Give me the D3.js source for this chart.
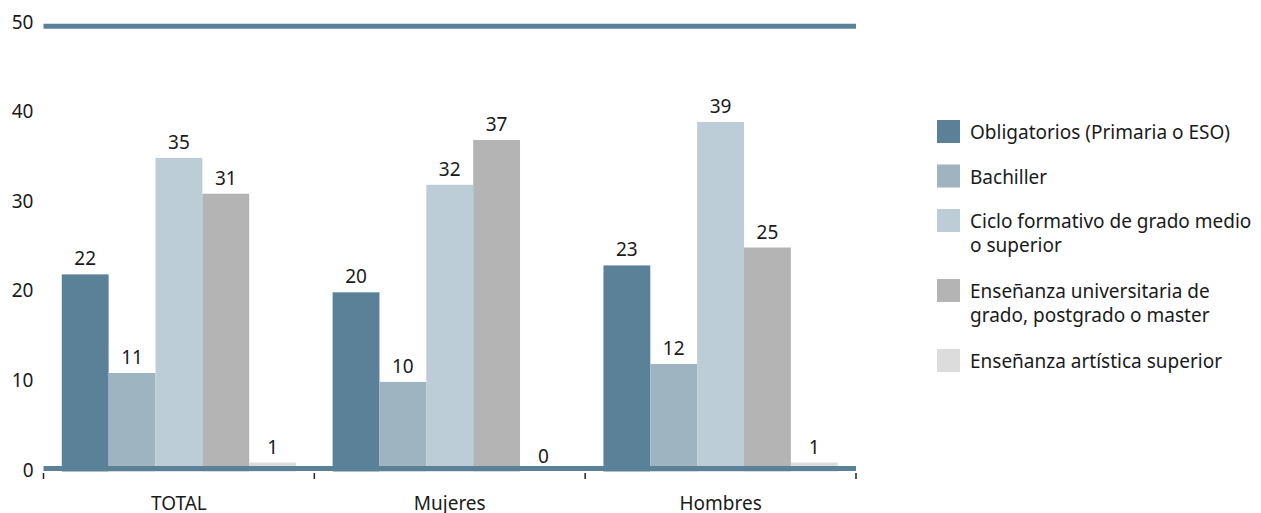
<!DOCTYPE html>
<html>
<head>
<meta charset="UTF-8" />
<title>Nivel de estudios</title>
<script src="https://cdn.jsdelivr.net/npm/d3@7"></script>
<style>
    body { margin: 0; background: #fff; }
    svg text { font-family: "Noto Sans", sans-serif; fill: #1a1a1a; }
</style>
</head>
<body>
<svg id="chart" width="1261" height="513"></svg>
<script>
    // data
    var categories = ["TOTAL", "Mujeres", "Hombres"];
    var legendLines = [
        ["Obligatorios (Primaria o ESO)"],
        ["Bachiller"],
        ["Ciclo formativo de grado medio", "o superior"],
        ["Enseñanza universitaria de", "grado, postgrado o master"],
        ["Enseñanza artística superior"]
    ];
    var obligatorios = [22, 20, 23];
    var bachiller = [11, 10, 12];
    var ciclo = [35, 32, 39];
    var universitaria = [31, 37, 25];
    var artistica = [1, 0, 1];
    var yTicks = [0, 10, 20, 30, 40, 50];

    var colors = ["#5b8199", "#9eb4c1", "#bccdd7", "#b4b4b4", "#dcdcdc"];
    var lineColor = "#5b8199";
    var fontSize = "19px";

    var series = [obligatorios, bachiller, ciclo, universitaria, artistica];

    var svg = d3.select("#chart");
    var mLeft = 43.5, mRight = 856, mTop = 23.5, mBottom = 471.5;

    var x = d3.scaleBand().domain(categories).range([mLeft, mRight]).padding(0);
    var xi = d3.scaleBand().domain(d3.range(series.length)).range([0, x.bandwidth()])
        .paddingInner(0).paddingOuter(0.39);
    var y = d3.scaleLinear().domain([0, 50]).range([mBottom, mTop]);

    // y labels
    var yAxis = svg.append("g")
        .attr("transform", "translate(" + (mLeft - 10) + ",-1.5)")
        .call(d3.axisLeft(y).tickValues(yTicks).tickSize(0).tickPadding(0));
    yAxis.select(".domain").remove();
    yAxis.selectAll("text").style("font-size", fontSize).attr("fill", "#1a1a1a");

    // top line at 50
    svg.append("line")
        .attr("x1", mLeft).attr("x2", mRight)
        .attr("y1", y(50) + 2.7).attr("y2", y(50) + 2.7)
        .attr("stroke", lineColor).attr("stroke-width", 5);

    // bars
    var groups = svg.selectAll("g.cat")
        .data(categories)
        .enter().append("g")
        .attr("class", "cat")
        .attr("transform", function (d) { return "translate(" + x(d) + ",0)"; });

    groups.each(function (cat, ci) {
        var g = d3.select(this);
        series.forEach(function (vals, si) {
            var v = vals[ci];
            g.append("rect")
                .attr("x", xi(si))
                .attr("width", xi.bandwidth())
                .attr("y", y(v))
                .attr("height", mBottom - y(v))
                .attr("fill", colors[si]);
            g.append("text")
                .attr("x", xi(si) + xi.bandwidth() / 2)
                .attr("y", y(v) - 9)
                .attr("text-anchor", "middle")
                .style("font-size", fontSize)
                .text(v);
        });
    });

    // baseline
    svg.append("line")
        .attr("x1", mLeft).attr("x2", mRight)
        .attr("y1", y(0) - 3).attr("y2", y(0) - 3)
        .attr("stroke", lineColor).attr("stroke-width", 5);

    // x ticks at category boundaries
    var bounds = categories.map(function (c) { return x(c); }).concat([mRight]);
    svg.selectAll("line.xtick")
        .data(bounds)
        .enter().append("line")
        .attr("class", "xtick")
        .attr("x1", function (d) { return d; }).attr("x2", function (d) { return d; })
        .attr("y1", mBottom + 1.5).attr("y2", mBottom + 7.5)
        .attr("stroke", "#222").attr("stroke-width", 1.5);

    // x labels
    var xAxis = svg.append("g")
        .attr("transform", "translate(0," + mBottom + ")")
        .call(d3.axisBottom(x).tickSize(0).tickPadding(25));
    xAxis.select(".domain").remove();
    xAxis.selectAll("text").style("font-size", fontSize).attr("fill", "#1a1a1a");

    // legend
    var legend = svg.append("g").attr("transform", "translate(937,120)");
    var offset = 0;
    legendLines.forEach(function (lines, i) {
        var item = legend.append("g").attr("transform", "translate(0," + offset + ")");
        item.append("rect").attr("width", 23).attr("height", 23).attr("fill", colors[i]);
        var t = item.append("text").attr("x", 33).attr("y", 19).style("font-size", fontSize);
        lines.forEach(function (ln, k) {
            t.append("tspan").attr("x", 33).attr("dy", k === 0 ? 0 : 23.5).text(ln);
        });
        offset += 44.5 + (lines.length - 1) * 25.5;
    });
</script>
</body>
</html>
